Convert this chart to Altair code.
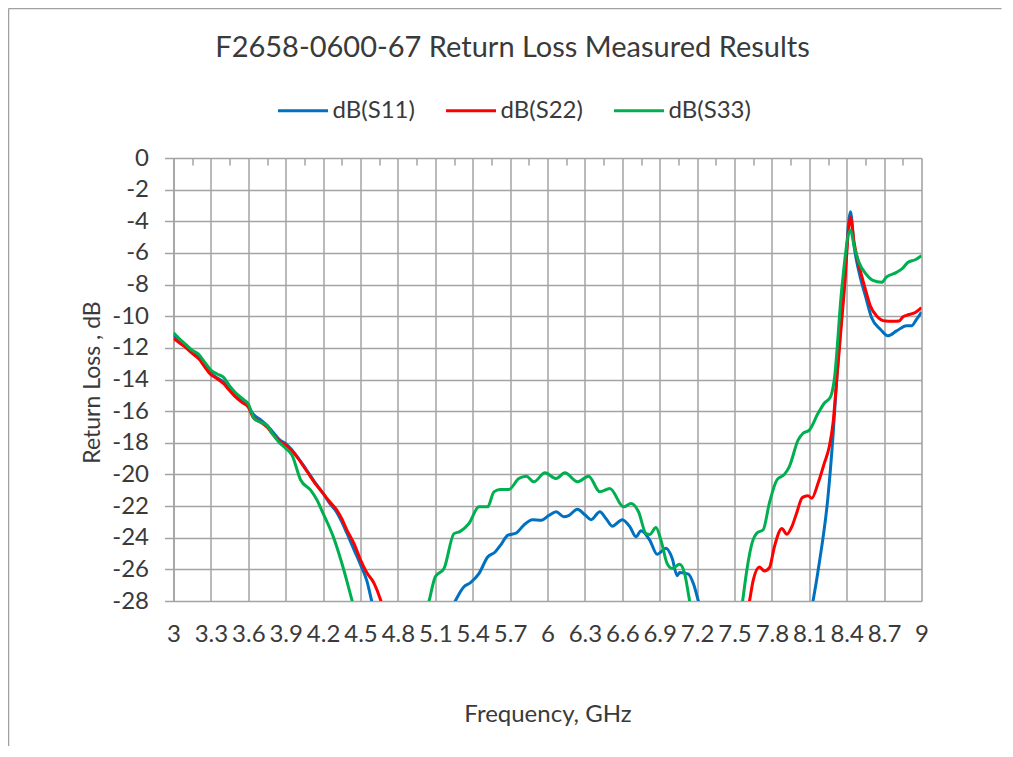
import altair as alt
import pandas as pd

# ---- data ----
series = ["dB(S11)", "dB(S22)", "dB(S33)"]
colors = ["#0070C0", "#FF0000", "#00B050"]

s11_f = [3.00, 3.05, 3.10, 3.15, 3.21, 3.25, 3.30, 3.35, 3.40, 3.45, 3.51, 3.55, 3.60, 3.64, 3.70,
         3.75, 3.80, 3.85, 3.90, 3.95, 4.00, 4.07, 4.13, 4.20, 4.25, 4.31, 4.35, 4.39, 4.45, 4.50,
         4.55, 4.59, 4.65, 4.80, 5.00, 5.20, 5.26, 5.33, 5.38, 5.45, 5.52, 5.58, 5.63, 5.68, 5.75,
         5.81, 5.88, 5.95, 6.01, 6.07, 6.13, 6.17, 6.24, 6.30, 6.35, 6.42, 6.47, 6.52, 6.60, 6.66,
         6.71, 6.75, 6.82, 6.88, 6.95, 7.00, 7.04, 7.06, 7.13, 7.17, 7.21, 7.26, 7.50, 7.80, 8.05,
         8.13, 8.18, 8.25, 8.29, 8.32, 8.38, 8.43, 8.46, 8.50, 8.55, 8.60, 8.67, 8.73, 8.80, 8.88,
         8.92, 8.96, 9.00]
s11_db = [-11.20, -11.55, -11.90, -12.25, -12.65, -13.10, -13.60, -13.90, -14.15, -14.60, -15.10,
          -15.40, -15.70, -16.20, -16.55, -16.90, -17.35, -17.80, -18.05, -18.45, -18.95, -19.75,
          -20.45, -21.20, -21.80, -22.40, -23.00, -23.70, -24.80, -25.70, -26.70, -28.00, -29.80,
          -32.00, -33.00, -29.00, -28.00, -27.10, -26.85, -26.27, -25.22, -24.90, -24.40, -23.85,
          -23.70, -23.20, -22.86, -22.90, -22.60, -22.36, -22.67, -22.60, -22.20, -22.55, -22.86,
          -22.36, -22.80, -23.27, -22.86, -23.30, -23.94, -23.56, -24.15, -25.05, -24.67, -25.30,
          -26.40, -26.20, -26.30, -26.90, -28.00, -29.50, -33.00, -34.00, -31.00, -28.00, -25.60,
          -21.40, -17.60, -14.00, -8.10, -3.40, -5.60, -7.25, -8.72, -10.10, -10.82, -11.24, -10.93,
          -10.60, -10.60, -10.20, -9.73]

s22_f = [3.00, 3.05, 3.10, 3.15, 3.21, 3.25, 3.30, 3.35, 3.40, 3.45, 3.51, 3.55, 3.60, 3.64, 3.70,
         3.75, 3.80, 3.85, 3.90, 3.95, 4.00, 4.07, 4.13, 4.20, 4.25, 4.31, 4.35, 4.39, 4.45, 4.50,
         4.55, 4.61, 4.66, 4.72, 4.80, 5.00, 5.50, 6.00, 6.50, 7.00, 7.30, 7.50, 7.58, 7.62, 7.65,
         7.70, 7.74, 7.78, 7.82, 7.88, 7.92, 7.96, 8.00, 8.04, 8.06, 8.09, 8.12, 8.17, 8.22, 8.26,
         8.29, 8.32, 8.38, 8.43, 8.46, 8.50, 8.55, 8.59, 8.64, 8.71, 8.77, 8.82, 8.85, 8.88, 8.95,
         9.00]
s22_db = [-11.40, -11.70, -12.00, -12.35, -12.75, -13.20, -13.70, -13.95, -14.25, -14.70, -15.20,
          -15.45, -15.75, -16.40, -16.70, -17.00, -17.50, -17.90, -18.15, -18.50, -19.00, -19.80,
          -20.50, -21.20, -21.70, -22.25, -22.80, -23.50, -24.40, -25.40, -26.20, -26.90, -27.90,
          -29.60, -31.50, -33.00, -34.00, -32.00, -33.00, -34.00, -33.00, -31.00, -29.30, -28.00,
          -26.70, -25.85, -26.10, -25.90, -24.57, -23.42, -23.78, -23.30, -22.40, -21.50, -21.40,
          -21.35, -21.50, -20.56, -19.30, -18.25, -16.78, -14.00, -8.40, -3.75, -5.38, -6.84, -8.30,
          -9.35, -9.98, -10.30, -10.32, -10.30, -10.05, -9.94, -9.77, -9.46]

s33_f = [3.00, 3.05, 3.10, 3.15, 3.20, 3.25, 3.30, 3.35, 3.40, 3.45, 3.50, 3.55, 3.60, 3.65, 3.70,
         3.75, 3.80, 3.85, 3.90, 3.95, 4.02, 4.10, 4.15, 4.20, 4.28, 4.35, 4.43, 4.50, 4.70, 4.90,
         5.00, 5.05, 5.10, 5.17, 5.25, 5.30, 5.37, 5.45, 5.52, 5.57, 5.62, 5.69, 5.77, 5.83, 5.89,
         5.98, 6.07, 6.14, 6.24, 6.33, 6.42, 6.50, 6.61, 6.67, 6.73, 6.79, 6.82, 6.87, 6.91, 6.96,
         7.00, 7.06, 7.10, 7.14, 7.20, 7.40, 7.52, 7.565, 7.60, 7.64, 7.68, 7.73, 7.78, 7.84, 7.90,
         7.94, 8.01, 8.05, 8.10, 8.17, 8.22, 8.27, 8.30, 8.36, 8.43, 8.46, 8.50, 8.56, 8.61, 8.68,
         8.72, 8.80, 8.85, 8.89, 8.95, 9.00]
s33_db = [-11.05, -11.45, -11.80, -12.15, -12.40, -12.90, -13.40, -13.65, -13.85, -14.40, -14.85,
          -15.20, -15.55, -16.50, -16.70, -16.90, -17.50, -18.00, -18.35, -18.77, -20.35, -20.99,
          -21.60, -22.46, -23.90, -25.60, -27.90, -30.00, -33.00, -32.00, -29.50, -28.00, -26.47,
          -25.95, -23.74, -23.60, -23.10, -22.05, -22.05, -21.10, -20.95, -20.95, -20.26, -20.11,
          -20.47, -19.90, -20.26, -19.90, -20.47, -20.11, -21.10, -20.89, -22.05, -21.84, -22.36,
          -23.74, -23.80, -23.36, -24.16, -25.64, -25.95, -25.68, -26.27, -28.00, -30.50, -32.00,
          -30.50, -28.00, -26.00, -24.36, -23.70, -23.50, -21.80, -20.35, -20.00, -19.50, -17.83,
          -17.40, -17.20, -16.14, -15.50, -15.10, -14.03, -8.30, -4.55, -5.58, -6.63, -7.38, -7.74,
          -7.86, -7.52, -7.23, -6.96, -6.60, -6.43, -6.18]

x_ticks = [3, 3.3, 3.6, 3.9, 4.2, 4.5, 4.8, 5.1, 5.4, 5.7, 6, 6.3, 6.6, 6.9, 7.2, 7.5, 7.8,
           8.1, 8.4, 8.7, 9]
x_minor_ticks = [3.15, 3.45, 3.75, 4.05, 4.35, 4.65, 4.95, 5.25, 5.55, 5.85, 6.15, 6.45, 6.75,
                 7.05, 7.35, 7.65, 7.95, 8.25, 8.55, 8.85]
y_ticks = [0, -2, -4, -6, -8, -10, -12, -14, -16, -18, -20, -22, -24, -26, -28]

title_text = "F2658-0600-67 Return Loss Measured Results"
x_title = "Frequency, GHz"
y_title = "Return Loss , dB"

# ---- build long table ----
rows = []
for name, fs, vs in zip(series, [s11_f, s22_f, s33_f], [s11_db, s22_db, s33_db]):
    for f, v in zip(fs, vs):
        rows.append({"series": name, "freq": f, "db": v})
df = pd.DataFrame(rows)

FONT = "Lato"
TXT = "#3a3a3a"
GRID = "#a3a3a3"

xscale = alt.Scale(domain=[3, 9], nice=False, zero=False)
yscale = alt.Scale(domain=[-28, 0], nice=False, zero=False)

x_axis = alt.Axis(
    orient="bottom", values=x_ticks, grid=True, gridColor=GRID, gridWidth=1.5,
    ticks=False, tickSize=0, domain=False, labelPadding=33, labelBaseline="middle",
    labelFont=FONT, labelFontSize=24, labelColor=TXT, labelOverlap=False,
    labelFlush=False, labelBound=False, labelExpr="'' + datum.value",
    title=x_title, titleFont=FONT, titleFontSize=24, titleFontWeight="normal",
    titleColor=TXT, titleX=374, titleY=113, titleBaseline="middle", titleAlign="center",
)
y_axis = alt.Axis(
    orient="left", values=y_ticks, grid=True, gridColor=GRID, gridWidth=1.5,
    ticks=True, tickSize=9, tickColor=GRID, tickWidth=1.5,
    domain=True, domainColor=GRID, domainWidth=1.5,
    labelPadding=16, labelFont=FONT, labelFontSize=24, labelColor=TXT,
    labelExpr="'' + datum.value", labelOverlap=False,
    title=y_title, titleFont=FONT, titleFontSize=23, titleFontWeight="normal",
    titleColor=TXT, titleX=-81, titleY=224, titleAngle=270,
    titleBaseline="middle", titleAlign="center",
)
top_axis = alt.Axis(
    orient="top", values=x_minor_ticks, labels=False, grid=False, domain=False,
    ticks=True, tickSize=7, tickColor=GRID, tickWidth=1.5, offset=-7, title=None,
)

legend = alt.Legend(
    orient="none", legendX=103, legendY=-74, direction="horizontal", title=None,
    symbolType="stroke", symbolSize=2500, symbolStrokeWidth=3, labelFont=FONT,
    labelFontSize=24, labelColor=TXT, labelOffset=3, columnPadding=24, padding=0,
)

lines = alt.Chart(df).mark_line(clip=True, strokeWidth=3, interpolate="monotone").encode(
    x=alt.X("freq:Q", scale=xscale, axis=x_axis),
    y=alt.Y("db:Q", scale=yscale, axis=y_axis),
    color=alt.Color("series:N", scale=alt.Scale(domain=series, range=colors), legend=legend),
    detail="series:N",
)

ticks_layer = alt.Chart(df).mark_line(opacity=0).encode(
    x=alt.X("freq:Q", scale=xscale, axis=top_axis),
    y=alt.Y("db:Q", scale=yscale, axis=y_axis),
    detail="series:N",
)

border_df = pd.DataFrame({"k": [0]})
border_v = alt.Chart(border_df).mark_rule(color="#a0a0a0", strokeWidth=1.5).encode(
    x=alt.value(-165), y=alt.value(-149.5), y2=alt.value(588)
)
border_h = alt.Chart(border_df).mark_rule(color="#a0a0a0", strokeWidth=1.5).encode(
    x=alt.value(-165), x2=alt.value(828), y=alt.value(-149.5)
)

chart = alt.layer(lines, ticks_layer, border_v, border_h).resolve_axis(
    x="independent", y="shared"
).properties(
    width=748, height=443,
    padding={"left": 165.5, "top": 150, "right": 80, "bottom": 145},
    autosize=alt.AutoSizeParams(type="none"),
    title=alt.TitleParams(title_text, font=FONT, fontSize=29, fontWeight="normal",
                          color=TXT, anchor="middle", offset=0, dx=-35, dy=55),
).configure_view(stroke=None).configure(background="white")

chart.save("out.html", embed_options={"renderer": "svg", "actions": False})
